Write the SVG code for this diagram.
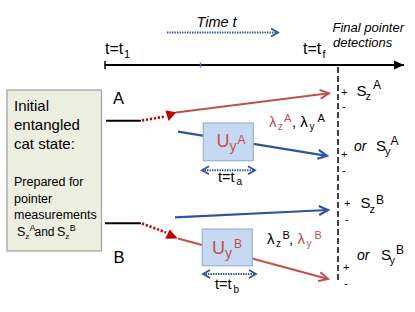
<svg xmlns="http://www.w3.org/2000/svg" width="415" height="312" viewBox="0 0 415 312">
<defs>
<style>
text{font-family:"Liberation Sans",Arial,sans-serif;fill:#000}
.red{fill:#c0504d}
.it{font-style:italic}
.ln-red{stroke:#c0504d;stroke-width:2;fill:none}
.ln-blue{stroke:#2e5597;stroke-width:2.2;fill:none}
.ln-black{stroke:#000;stroke-width:2;fill:none}
.dot-red{stroke:#c00000;stroke-width:2.6;stroke-dasharray:2.2 1.8;fill:none}
.dot-blue{stroke:#2e5597;stroke-width:2;stroke-dasharray:1.4 1.1;fill:none}
.ubox{fill:#c6d9f1;stroke:#95b3d7;stroke-width:1.2}
.pm{font-size:11px}
</style>
<marker id="ahRed" viewBox="-11 -6 13 12" refX="0" refY="0" markerWidth="13" markerHeight="12" markerUnits="userSpaceOnUse" orient="auto"><path d="M-9,-4.5 L0,0 L-9,4.5" fill="none" stroke="#c0504d" stroke-width="2"/></marker>
<marker id="ahBlue" viewBox="-11 -6 13 12" refX="0" refY="0" markerWidth="13" markerHeight="12" markerUnits="userSpaceOnUse" orient="auto"><path d="M-9,-4.5 L0,0 L-9,4.5" fill="none" stroke="#2e5597" stroke-width="2.2"/></marker>
<marker id="ahDot" viewBox="-10 -6 12 12" refX="0" refY="0" markerWidth="12" markerHeight="12" markerUnits="userSpaceOnUse" orient="auto-start-reverse"><path d="M-7,-4 L0,0 L-7,4" fill="none" stroke="#2e5597" stroke-width="1.8"/></marker>
<marker id="ahBlack" viewBox="-11 -6 12 12" refX="0" refY="0" markerWidth="12" markerHeight="12" markerUnits="userSpaceOnUse" orient="auto"><path d="M-10,-4.5 L0,0 L-10,4.5 Z" fill="#000"/></marker>
</defs>

<g id="timeline">
<line x1="105" y1="65" x2="404" y2="65" class="ln-black" marker-end="url(#ahBlack)"/>
<line x1="105" y1="61" x2="105" y2="69" stroke="#000" stroke-width="1.5"/>
<line x1="200.5" y1="62.5" x2="200.5" y2="67.5" stroke="#4f81bd" stroke-width="1.5"/>
<text x="105" y="54.3" font-size="16">t=t<tspan x="124" y="57.5" font-size="11">1</tspan></text>
<text x="303" y="54.3" font-size="16">t=t<tspan x="322.5" y="57.5" font-size="11">f</tspan></text>
<text x="196.5" y="26.7" font-size="14.5" class="it">Time t</text>
<line x1="167" y1="32.5" x2="278" y2="32.5" class="dot-blue" marker-end="url(#ahDot)"/>
<text x="332.5" y="31.7" font-size="13" class="it">Final pointer</text>
<text x="333" y="47.3" font-size="13" class="it">detections</text>
</g>

<g id="detector">
<line x1="338" y1="67" x2="338" y2="282" stroke="#404040" stroke-width="2" stroke-dasharray="6 3"/>
</g>

<g id="initial-state">
<rect x="7" y="90" width="94.5" height="161" fill="#eceedf" stroke="#a6a6a6" stroke-width="1.3"/>
<text x="14" y="110.7" font-size="15">Initial</text>
<text x="14" y="130" font-size="15">entangled</text>
<text x="14" y="148.5" font-size="15">cat state:</text>
<text x="14" y="186" font-size="12.5">Prepared for</text>
<text x="14" y="202.7" font-size="12.5">pointer</text>
<text x="14" y="219.3" font-size="12.5">measurements</text>
<text x="17" y="236" font-size="12.5">S<tspan x="25.3" y="238.5" font-size="8">z</tspan><tspan x="29.5" y="231" font-size="9">A</tspan><tspan x="34.5" y="236" font-size="12">and</tspan><tspan x="57" y="236">S</tspan><tspan x="65.3" y="238.5" font-size="8">z</tspan><tspan x="69.8" y="231" font-size="9">B</tspan></text>
</g>

<g id="label-A"><text x="113" y="104" font-size="16.5">A</text></g>
<g id="label-B"><text x="113.5" y="263.3" font-size="16.5">B</text></g>

<g id="connectors">
<line x1="106" y1="120.7" x2="141" y2="120.7" class="ln-black"/>
<line x1="142" y1="120.5" x2="165" y2="116.5" class="dot-red"/>
<polygon points="165.5,110.5 176.5,112.2 168.5,121" fill="#c00000"/>
<line x1="176" y1="112.5" x2="329" y2="93.2" class="ln-red" marker-end="url(#ahRed)"/>
<line x1="178" y1="131.7" x2="327" y2="155.8" class="ln-blue" marker-end="url(#ahBlue)"/>

<line x1="105" y1="223.3" x2="141" y2="223.3" class="ln-black"/>
<line x1="142" y1="223.5" x2="166" y2="232.5" class="dot-red"/>
<polygon points="169.7,229.5 165.3,238.8 177.7,238.5" fill="#c00000"/>
<line x1="178" y1="238.5" x2="328" y2="279" class="ln-red" marker-end="url(#ahRed)"/>
<line x1="175" y1="217.3" x2="328" y2="210" class="ln-blue" marker-end="url(#ahBlue)"/>

<line x1="202" y1="170.3" x2="255" y2="170.3" class="dot-blue" marker-start="url(#ahDot)" marker-end="url(#ahDot)"/>
<line x1="203" y1="274" x2="256" y2="274" class="dot-blue" marker-start="url(#ahDot)" marker-end="url(#ahDot)"/>
</g>

<g id="UyA">
<rect x="203.3" y="123" width="50" height="37.7" class="ubox"/>
<text x="216.5" y="146.5" font-size="18" class="red">U<tspan x="229.5" y="151" font-size="14">y</tspan><tspan x="237.5" y="144" font-size="12">A</tspan></text>
</g>
<g id="UyB">
<rect x="202.3" y="229" width="50" height="36.7" class="ubox"/>
<text x="212" y="253.5" font-size="18" class="red">U<tspan x="225" y="258" font-size="14">y</tspan><tspan x="234" y="247.5" font-size="12">B</tspan></text>
</g>

<g id="label-ta"><text x="218" y="181.5" font-size="14.5">t=t<tspan x="236.5" y="185" font-size="10">a</tspan></text></g>
<g id="label-tb"><text x="215" y="289" font-size="14.5">t=t<tspan x="233.5" y="293" font-size="10">b</tspan></text></g>

<g id="lambda-A">
<text x="269" y="127" font-size="15"><tspan class="red">λ</tspan><tspan x="278" y="130" font-size="10" class="red">z</tspan><tspan x="284" y="121.5" font-size="11" class="red">A</tspan><tspan x="292" y="127">, λ</tspan><tspan x="309.5" y="130" font-size="10">y</tspan><tspan x="317.5" y="121.5" font-size="11">A</tspan></text>
</g>
<g id="lambda-B">
<text x="267" y="244" font-size="15">λ<tspan x="276" y="247" font-size="10">z</tspan><tspan x="282.5" y="238.5" font-size="11">B</tspan><tspan x="289" y="244">,</tspan><tspan x="297.5" y="244" class="red">λ</tspan><tspan x="306.5" y="247" font-size="10" class="red">y</tspan><tspan x="314.5" y="238.5" font-size="11" class="red">B</tspan></text>
</g>

<g id="outcome-A">
<text x="341" y="96" class="pm">+</text>
<text x="342" y="110" class="pm">-</text>
<text x="356.5" y="96" font-size="15">S<tspan x="365.5" y="100" font-size="11">z</tspan><tspan x="373" y="89" font-size="12">A</tspan></text>
<text x="341" y="158" class="pm">+</text>
<text x="342" y="173.5" class="pm">-</text>
<text x="354" y="151" font-size="14" class="it">or</text>
<text x="376" y="150.7" font-size="15">S<tspan x="385" y="154.5" font-size="11">y</tspan><tspan x="390.5" y="145" font-size="12">A</tspan></text>
</g>
<g id="outcome-B">
<text x="344" y="206.7" class="pm">+</text>
<text x="345" y="222.8" class="pm">-</text>
<text x="360.5" y="208.3" font-size="15">S<tspan x="369.5" y="213" font-size="11">z</tspan><tspan x="376" y="204" font-size="12">B</tspan></text>
<text x="343" y="271" class="pm">+</text>
<text x="344" y="286.8" class="pm">-</text>
<text x="357" y="260" font-size="14" class="it">or</text>
<text x="381" y="260" font-size="15">S<tspan x="389.5" y="263.5" font-size="11">y</tspan><tspan x="396" y="254" font-size="12">B</tspan></text>
</g>
</svg>
